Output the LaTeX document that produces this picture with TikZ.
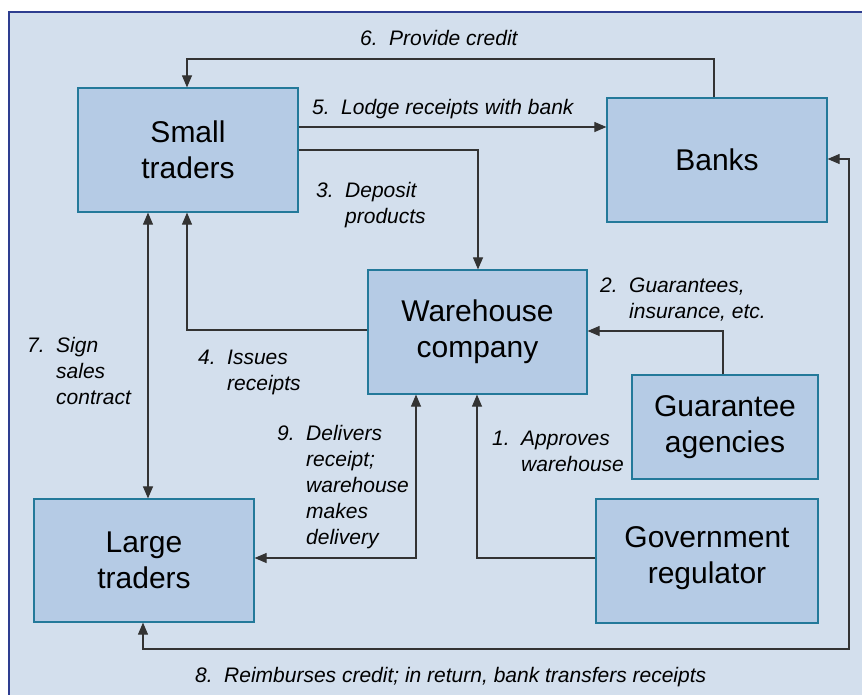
\documentclass[tikz,border=0pt]{standalone}
\usepackage{fontspec}
\setmainfont{Liberation Sans}
\usetikzlibrary{arrows.meta}

\definecolor{panel}{HTML}{D3DFED}
\definecolor{boxfill}{HTML}{B5CBE5}
\definecolor{boxedge}{HTML}{23799A}
\definecolor{frameblue}{HTML}{2E3E90}
\definecolor{wire}{HTML}{333333}

% step number in a fixed-width column, wording hanging beside it
\newcommand{\stepno}[1]{\makebox[29pt][l]{#1}}
\newcommand{\steptext}[2]{\stepno{#1}\begin{tabular}[t]{@{}l@{}}#2\end{tabular}}

\begin{document}
\begin{tikzpicture}[x=1pt,y=-1pt,
  party/.style={draw=boxedge, line width=1.2pt, fill=boxfill,
    minimum width=220pt, minimum height=124pt, inner sep=0pt,
    align=center, font=\fontsize{30}{36}\selectfont},
  steplabel/.style={anchor=base west, inner sep=0pt,
    font=\fontsize{21}{26}\selectfont\itshape},
  tip/.tip={Triangle[length=12pt,width=10pt]},
  flow/.style={draw=wire, line width=1.1pt, -tip},
  flowboth/.style={draw=wire, line width=1.1pt, tip-tip},
]
\useasboundingbox (0,0) rectangle (862,694);
\fill[white] (0,0) rectangle (862,694);
\draw[fill=panel, draw=frameblue, line width=2pt] (9,12) rectangle (870,712);

% parties
\node[party] (small) at (188,150) {Small\\traders};
\node[party] (banks) at (717,160) {Banks};
\node[party, minimum width=219pt] (wh) at (477.5,332) {Warehouse\\company};
\node[party, minimum height=123pt] (large) at (144,560.5) {Large\\traders};
\node[party, minimum width=222pt] (gov) at (707,561) {Government\\regulator\rule[-12pt]{0pt}{0pt}};
\node[party, minimum width=186pt, minimum height=104pt] (guar) at (725,427) {Guarantee\\agencies};

% bends of the connectors
\coordinate (k6r) at (714,59);
\coordinate (k6l) at (187,59);
\coordinate (k5) at (450,127);
\coordinate (k3) at (478,150);
\coordinate (k4) at (187,330);
\coordinate (k7) at (148,400);
\coordinate (k9) at (416,558);
\coordinate (k1) at (477,558);
\coordinate (k2) at (723,331);
\coordinate (k8a) at (849,159);
\coordinate (k8b) at (849,649);
\coordinate (k8c) at (143,649);

% flows
\draw[flow] (banks.north -| k6r) -- (k6r) -- (k6l) -- (small.north -| k6l);
\draw[flow] (small.east |- k5) -- (banks.west |- k5);
\draw[flow] (small.east |- k3) -- (k3) -- (wh.north -| k3);
\draw[flow] (wh.west |- k4) -- (k4) -- (small.south -| k4);
\draw[flowboth] (small.south -| k7) -- (large.north -| k7);
\draw[flowboth] (large.east |- k9) -- (k9) -- (wh.south -| k9);
\draw[flow] (gov.west |- k1) -- (k1) -- (wh.south -| k1);
\draw[flow] (guar.north -| k2) -- (k2) -- (wh.east |- k2);
\draw[flowboth] (banks.east |- k8a) -- (k8a) -- (k8b) -- (k8c) -- (large.south -| k8c);

% step labels
\node[steplabel] (l6) at (360,45) {\steptext{6.}{Provide credit}};
\node[steplabel] (l5) at (312,114) {\steptext{5.}{Lodge receipts with bank}};
\node[steplabel] (l3) at (316,197) {\steptext{3.}{Deposit\\products}};
\node[steplabel] (l2) at (600,292) {\steptext{2.}{Guarantees,\\insurance, etc.}};
\node[steplabel] (l4) at (198,364) {\steptext{4.}{Issues\\receipts}};
\node[steplabel] (l7) at (27,352) {\steptext{7.}{Sign\\sales\\contract}};
\node[steplabel] (l9) at (277,440) {\steptext{9.}{Delivers\\receipt;\\warehouse\\makes\\delivery}};
\node[steplabel] (l1) at (492,445) {\steptext{1.}{Approves\\warehouse}};
\node[steplabel] (l8) at (195,682) {\steptext{8.}{Reimburses credit; in return, bank transfers receipts}};
\end{tikzpicture}
\end{document}
